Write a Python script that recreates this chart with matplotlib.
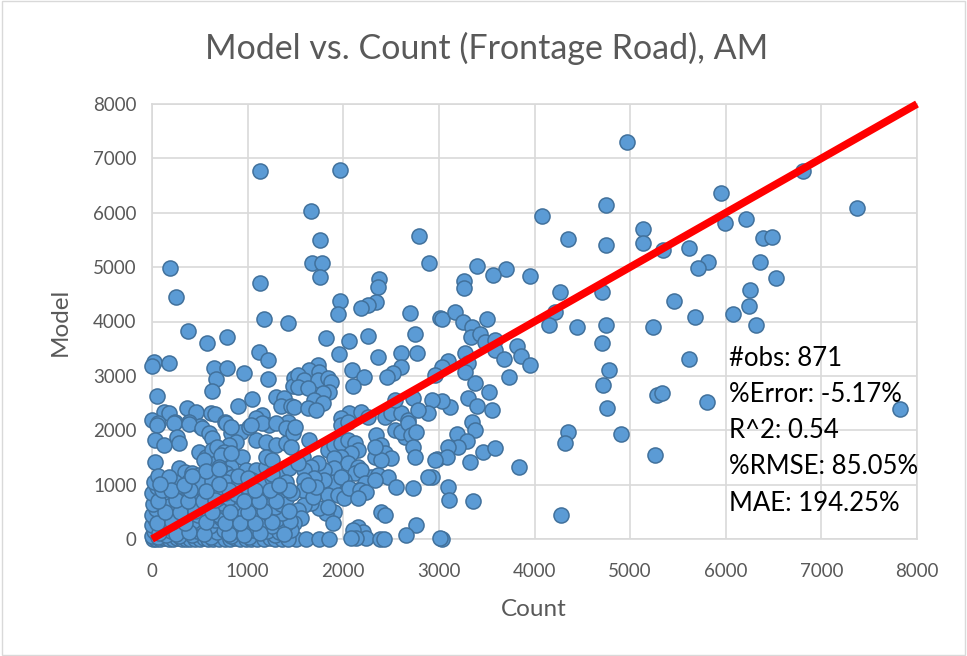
import matplotlib.pyplot as plt
from matplotlib.patches import Rectangle

plt.rcParams['font.family'] = ['Lato', 'DejaVu Sans']

# точки (Count, Model)
pts_top = [(1130, 6770), (1970, 6780), (4964, 7303), (6810, 6765), (5952, 6355), (7377, 6090),
           (1660, 6035), (4744, 6140), (4079, 5937), (5987, 5814), (6208, 5882), (5136, 5699),
           (2794, 5575), (1754, 5490), (4352, 5509), (6390, 5539), (6487, 5557), (5136, 5436),
           (4744, 5404), (5339, 5312), (5620, 5355), (5812, 5092), (5707, 4976), (6355, 5086),
           (6523, 4804), (192, 4975), (1676, 5068), (1775, 5074), (2899, 5074), (1760, 4810),
           (1130, 4700), (252, 4454), (2370, 4774), (2363, 4627), (3396, 5024), (3701, 4963),
           (3564, 4853), (3263, 4748), (3267, 4608), (3950, 4840), (4262, 4546), (4702, 4546),
           (5455, 4381), (6250, 4577), (6243, 4283), (1967, 4369), (2345, 4357), (2258, 4300),
           (2188, 4240), (1943, 4130), (2695, 4149), (3010, 4057), (1172, 4039), (1418, 3977),
           (4219, 4167), (4156, 3934), (4440, 3903), (4744, 3934), (5234, 3891), (5683, 4075),
           (6080, 4133), (6320, 3934)]

pts_right_low = [(4702, 3609), (4779, 3107), (5620, 3303), (4716, 2831), (4762, 2402), (5276, 2647),
                 (5332, 2689), (5802, 2518), (4352, 1961), (4324, 1759), (4905, 1930), (5262, 1544),
                 (4275, 435), (7818, 2390)]

pts_3000 = [(3028, 4039), (3168, 4167), (3256, 3995), (3344, 3891), (3336, 3719), (3431, 3762),
            (3501, 4039), (3483, 3627), (3588, 3658), (3588, 3474), (3676, 3303), (3816, 3554),
            (3861, 3364), (3956, 3199), (3735, 2984), (3273, 3413), (3309, 3230), (3273, 3075),
            (3099, 3278), (3028, 3168), (2958, 3015), (3378, 2862), (3529, 2696), (3302, 2586),
            (3396, 2445), (3554, 2371), (3116, 2432), (3028, 2542), (3344, 2157), (3378, 2004),
            (3186, 1930), (3291, 1807), (3201, 1697), (3096, 1697), (3466, 1605), (3588, 1667),
            (2976, 1465), (3081, 1502), (3326, 1410), (3834, 1329), (2923, 1134), (3092, 961),
            (3105, 717), (3354, 704), (3028, 0)]

pts_left_mid = [(374, 3829), (570, 3609), (788, 3707), (17, 3259), (0, 3180), (174, 3241),
                (647, 3138), (788, 3138), (672, 2936), (630, 2721), (962, 3057), (1120, 3443),
                (1218, 3290), (1208, 2936), (52, 2629), (1043, 2579), (903, 2445), (1487, 2954),
                (1470, 2812), (1295, 2605), (1382, 2586), (1348, 2445), (1453, 2445), (122, 2340),
                (174, 2311), (367, 2402), (455, 2340), (612, 2311), (657, 2292), (0, 2188),
                (63, 2138), (245, 2157), (385, 2157), (507, 2077), (763, 2157), (1155, 2279),
                (1085, 2219), (1225, 2096), (1418, 2157)]

pts_center = [(1820, 3700), (2065, 3645), (2258, 3732), (2748, 3768), (1954, 3401), (2363, 3340),
              (2601, 3413), (2773, 3425), (2090, 3107), (2216, 2984), (2101, 2818), (2601, 3156),
              (2521, 3057), (2461, 2984), (1733, 3199), (1645, 3107), (1750, 3075), (1523, 3015),
              (1593, 2923), (1733, 2923), (1838, 2954), (1873, 2892), (1855, 2708), (1523, 2800),
              (1628, 2770), (1786, 2678), (1698, 2555), (1786, 2506), (1487, 2432), (1628, 2402),
              (1715, 2371), (2065, 2311), (1978, 2219), (2188, 2340), (2258, 2248), (2433, 2248),
              (2503, 2311), (2608, 2311), (2679, 2188), (2538, 2555), (2731, 2586), (2923, 2555),
              (2889, 2311), (2784, 2371), (2643, 1880)]

pts_low_mid = [(52, 2096), (227, 2127), (385, 2110), (525, 2035), (595, 1943), (630, 1851),
               (770, 2127), (822, 1943), (927, 1972), (875, 1789), (805, 1728), (35, 1820),
               (122, 1728), (262, 1880), (280, 1759), (27, 1421), (490, 1605), (560, 1513),
               (630, 1636), (683, 1697), (752, 1605), (578, 1391), (665, 1391), (770, 1421),
               (822, 1329), (945, 1513), (280, 1300), (350, 1237), (420, 1208), (490, 1176),
               (630, 1176), (770, 1208), (840, 1145), (980, 1268), (1085, 1268), (1190, 1329),
               (1330, 1268), (1435, 1300), (1085, 1820), (1190, 1789), (1295, 1728), (1400, 1759),
               (1015, 2065), (1155, 2127), (1295, 2127), (1400, 2035), (1470, 1943), (1190, 1513),
               (1260, 1452), (822, 2065), (1033, 2096), (717, 1544), (700, 1329), (542, 1452),
               (822, 1575)]

pts_right_mid = [(1500, 2065), (1645, 1820), (1575, 1513), (1453, 1697), (1978, 2096), (2048, 2157),
                 (1838, 1636), (1908, 1728), (1978, 1759), (2048, 1820), (2118, 1759), (2153, 1636),
                 (2083, 1575), (1978, 1513), (1908, 1483), (2048, 1391), (2153, 1329), (1908, 1300),
                 (1803, 1268), (1733, 1391), (1663, 1329), (1593, 1268), (1523, 1391), (2346, 1912),
                 (2398, 1728), (2328, 1513), (2433, 1575), (2503, 1483), (2398, 1452), (2538, 2004),
                 (2608, 1972), (2679, 2127), (2713, 1912), (2766, 1972), (2731, 1697), (2748, 1513),
                 (2958, 1452), (2889, 1145), (2293, 1145), (2363, 1176), (2468, 1145), (2118, 1208),
                 (2013, 1085), (1908, 1053), (1803, 1085), (1698, 1116), (1593, 1085), (2328, 1697),
                 (2188, 1268), (1978, 1145), (2223, 1024), (2153, 901)]

pts_bottom_mid = [(2556, 950), (2731, 932), (2398, 502), (2433, 441), (2766, 257), (2661, 74),
                  (3010, 13), (2153, 226), (2206, 134), (2101, 165), (2241, 13), (2136, 13),
                  (2083, 13), (2381, 0), (2426, 0), (1908, 502), (1820, 472), (1891, 288),
                  (1750, 564), (1663, 656), (1593, 625), (1523, 533), (1558, 380), (1487, 288),
                  (1505, 0), (1610, 0), (1750, 0), (1855, 0), (1838, 809), (1943, 809),
                  (2013, 748), (2065, 932), (2170, 901), (2241, 870), (2153, 748), (2328, 1085),
                  (1575, 901), (1838, 594), (1680, 780), (1720, 960), (1630, 1000)]

pts_dense = [(10, 0), (45, 5), (85, 0), (130, 10), (175, 0), (220, 0), (265, 15), (310, 0), (355, 0),
             (400, 5), (450, 0), (500, 0), (545, 10), (590, 0), (640, 0), (700, 5), (760, 0), (815, 0),
             (870, 10), (925, 0), (985, 0), (1040, 5), (1100, 0), (1170, 0), (1230, 10), (1290, 0),
             (1360, 0), (1420, 5),
             (5, 60), (60, 40), (150, 80), (280, 50), (420, 70), (620, 30), (830, 60), (1010, 40), (1290, 70),
             (20, 150), (100, 170), (200, 140), (330, 160), (470, 150), (560, 180), (680, 130), (750, 160),
             (900, 140), (1060, 170), (1200, 150), (1330, 130), (1450, 160),
             (0, 260), (70, 240), (160, 270), (240, 230), (380, 250), (520, 280), (610, 240), (790, 260),
             (950, 230), (1130, 270), (1260, 240), (1390, 250),
             (30, 360), (120, 340), (290, 370), (430, 330), (660, 350), (720, 380), (850, 340), (1010, 360),
             (1180, 330), (1310, 370), (1440, 340),
             (0, 450), (90, 470), (200, 430), (340, 460), (480, 440), (580, 470), (700, 450), (880, 430),
             (1070, 460), (1230, 440), (1360, 480),
             (40, 560), (150, 540), (260, 570), (400, 530), (530, 560), (640, 550), (770, 580), (950, 540),
             (1100, 560), (1290, 590),
             (10, 640), (110, 670), (210, 650), (320, 630), (460, 660), (600, 640), (730, 670), (850, 650),
             (1000, 630), (1160, 660), (1350, 640),
             (60, 760), (180, 740), (290, 770), (410, 750), (550, 730), (690, 760), (800, 750), (920, 780),
             (1060, 740), (1240, 760), (1400, 730),
             (0, 850), (130, 870), (240, 840), (370, 860), (500, 830), (620, 870), (760, 850), (880, 830),
             (1010, 860), (1150, 840), (1320, 870), (1460, 850),
             (50, 960), (160, 940), (300, 970), (450, 950), (580, 930), (700, 960), (840, 940), (980, 970),
             (1120, 950), (1270, 930), (1390, 960),
             (20, 1050), (140, 1070), (245, 1040), (385, 1060), (490, 1030), (630, 1070), (770, 1050),
             (910, 1040), (1050, 1085), (1155, 1070), (1260, 1116), (1400, 1040),
             (60, 1160), (180, 1140), (560, 1250), (700, 1280), (900, 1150), (1250, 1200),
             (75, 110), (250, 100), (390, 120), (540, 90), (800, 100), (960, 80), (1130, 110), (1380, 90),
             (50, 300), (210, 320), (350, 290), (560, 310), (760, 300), (920, 290), (1080, 300), (1250, 310),
             (140, 500), (290, 490), (450, 510), (630, 500), (820, 500), (1000, 490), (1170, 510), (1430, 520),
             (60, 700), (250, 710), (380, 690), (530, 700), (660, 710), (960, 700), (1120, 690), (1300, 700),
             (100, 900), (200, 910), (400, 900), (560, 890), (800, 900), (1080, 910), (1230, 900), (1430, 910),
             (80, 1010), (330, 1000), (700, 1010), (1330, 1000), (420, 1150), (1000, 1120)]

stats = ['#obs: 871', '%Error: -5.17%', 'R^2: 0.54', '%RMSE: 85.05%', 'MAE: 194.25%']
ticks = [0, 1000, 2000, 3000, 4000, 5000, 6000, 7000, 8000]
line_xy = [0, 8000]

all_pts = (pts_top + pts_right_low + pts_3000 + pts_left_mid + pts_center
           + pts_low_mid + pts_right_mid + pts_bottom_mid + pts_dense)
count = [p[0] for p in all_pts]
model = [p[1] for p in all_pts]

grey = '#595959'
fig = plt.figure(figsize=(9.67, 6.56), dpi=100)
fig.patches.append(Rectangle((0.002, 0.002), 0.996, 0.996, transform=fig.transFigure,
                             fill=False, edgecolor='#d9d9d9', linewidth=1))
ax = fig.add_axes([152 / 967, 117 / 656, 765 / 967, 435 / 656])

ax.scatter(count, model, s=118, c='#5b9bd5', edgecolors='#41719c', linewidths=1.1,
           zorder=3, clip_on=False)
ax.plot(line_xy, line_xy, color='red', linewidth=5.5, solid_capstyle='butt', zorder=4, clip_on=False)

ax.set_xlim(0, 8000)
ax.set_ylim(0, 8000)
ax.set_xticks(ticks)
ax.set_yticks(ticks)
ax.grid(True, color='#d9d9d9', linewidth=1.2, zorder=0)
ax.set_axisbelow(True)
for s in ax.spines.values():
    s.set_color('#d9d9d9')
    s.set_linewidth(1.2)
ax.tick_params(axis='both', length=0, labelsize=13.5, labelcolor=grey)
ax.tick_params(axis='x', pad=17)
ax.tick_params(axis='y', pad=11)

for i, t in enumerate(stats):
    ax.text(6034, 3327 - i * 667, t, fontsize=18.5, color='black', va='center', ha='left', zorder=5)

fig.text(487 / 967, 1 - 48 / 656, 'Model vs. Count (Frontage Road), AM', fontsize=24.5,
         color=grey, ha='center', va='center')
fig.text(534 / 967, 1 - 610 / 656, 'Count', fontsize=17.5, color=grey, ha='center', va='center')
fig.text(60 / 967, 1 - 322 / 656, 'Model', fontsize=17.5, color=grey, ha='center', va='center',
         rotation=90)

fig.savefig('out.png', dpi=100)
